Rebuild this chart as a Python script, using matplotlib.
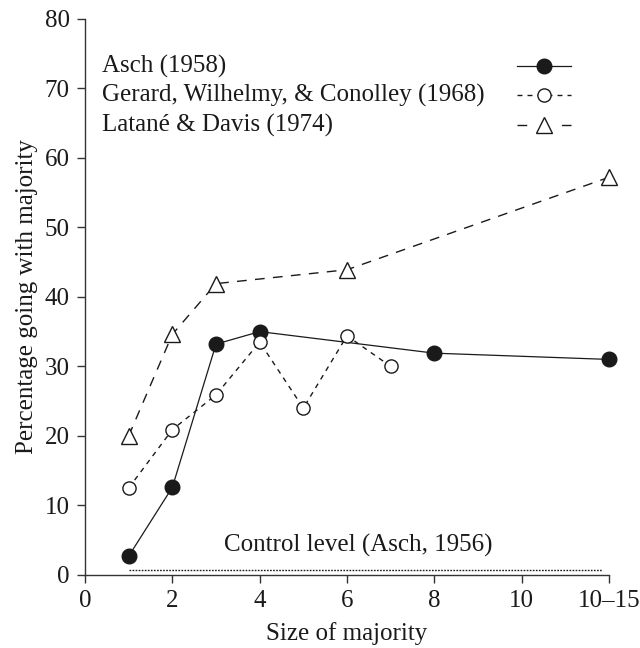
import numpy as np
import matplotlib.pyplot as plt

# size of majority (10-15 plotted at 12)
x_asch = [1, 2, 3, 4, 8, 12]
y_asch = [2.7, 12.6, 33.2, 35.0, 31.9, 31.0]

x_gerard = [1, 2, 3, 4, 5, 6, 7]
y_gerard = [12.5, 20.9, 25.9, 33.5, 24.0, 34.4, 30.0]

x_latane = [1, 2, 3, 6, 12]
y_latane = [20.0, 34.6, 41.9, 43.9, 57.2]

control_x = [1, 11.85]
control_y = [0.7, 0.7]

x_ticks = [0, 2, 4, 6, 8, 10, 12]
x_ticklabels = ['0', '2', '4', '6', '8', '10', '10–15']
y_ticks = [0, 10, 20, 30, 40, 50, 60, 70, 80]

labels = ['Asch (1958)', 'Gerard, Wilhelmy, & Conolley (1968)', 'Latané & Davis (1974)']

plt.rcParams['font.family'] = ['Liberation Serif', 'DejaVu Serif']
plt.rcParams['font.size'] = 18

ink = '#1a1a1a'
fig = plt.figure(figsize=(6.4, 6.48), dpi=100)
ax = fig.add_axes([0.1328, 0.1127, 0.8188, 0.8584])

asch_style = dict(color=ink, lw=0.9, marker='o', ms=10.5, mfc=ink, mec=ink)
gerard_style = dict(color=ink, lw=1.0, ls=(0, (3.6, 3.6)), marker='o', ms=9.5,
                    mfc='white', mec=ink, mew=1.0)
latane_style = dict(color=ink, lw=1.0, ls=(0, (7, 6)), marker='^', ms=12,
                    mfc='white', mec=ink, mew=1.0)

ax.plot(x_latane, y_latane, zorder=3, clip_on=False, **latane_style)
ax.plot(x_asch, y_asch, zorder=4, clip_on=False, **asch_style)
ax.plot(x_gerard, y_gerard, zorder=5, clip_on=False, **gerard_style)

ax.plot(control_x, control_y, color=ink, lw=1.0, ls=(0, (1.2, 1.0)))
ax.text(6.25, 3.4, 'Control level (Asch, 1956)', ha='center', va='baseline', color=ink)

# legend drawn by hand: labels left, keys in a right-hand column
rows_y = [0.915, 0.862, 0.809]
key_ls = ['-', (0, (3.6, 3.6)), (0, (7, 25))]
for lab, style, yy, kls in zip(labels, [asch_style, gerard_style, latane_style], rows_y, key_ls):
    ax.text(0.032, yy, lab, transform=ax.transAxes, ha='left', va='center', color=ink)
    ax.plot([0.824, 0.927], [yy, yy], transform=ax.transAxes, clip_on=False,
            color=style['color'], lw=style['lw'], ls=kls)
    ax.plot([0.8755], [yy], transform=ax.transAxes, clip_on=False, ls='none',
            marker=style['marker'], ms=style['ms'], mfc=style['mfc'], mec=style['mec'],
            mew=style.get('mew', 1.0), zorder=6)

ax.set_xlim(0, 12)
ax.set_ylim(0, 80)
ax.set_xticks(x_ticks)
ax.set_xticklabels(x_ticklabels)
ax.set_yticks(y_ticks)

for side in ['top', 'right']:
    ax.spines[side].set_visible(False)
for side in ['left', 'bottom']:
    ax.spines[side].set_color('#333333')
    ax.spines[side].set_linewidth(1.0)
ax.tick_params(axis='both', direction='out', length=6, width=1.0, color='#333333',
               labelcolor=ink, pad=5)

ax.set_xlabel('Size of majority', color=ink, labelpad=7)
ax.set_ylabel('Percentage going with majority', color=ink, labelpad=5)

plt.savefig('out.png', dpi=100)
